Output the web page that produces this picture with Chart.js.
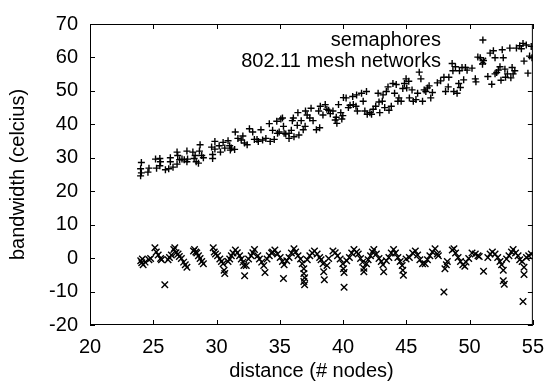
<!DOCTYPE html>
<html lang="en">
<head>
<meta charset="UTF-8">
<title>bandwidth vs distance</title>
<script src="https://cdn.jsdelivr.net/npm/chart.js@4"></script>
<style>
  body { margin: 0; background: #fff; }
  #chart { display: block; }
</style>
</head>
<body>
<canvas id="chart" width="554" height="390"></canvas>
<script>
// series names (legend)
const seriesNames = ["semaphores", "802.11 mesh networks"];

// semaphores (+)
const semX = [24.06, 24.0, 24.06, 24.0, 24.66, 24.58, 25.18, 25.52, 25.57, 25.52, 25.26, 25.96, 26.22, 26.35, 26.35, 26.56, 26.88, 26.93, 27.08, 26.88,
  27.27, 27.45, 27.66, 27.71, 27.66, 28.13, 28.31, 28.23, 28.39, 28.57, 28.7, 28.65, 28.83, 28.96, 29.69, 29.69, 29.61, 29.87, 29.87, 30.21,
  30.31, 30.52, 30.65, 30.91, 31.04, 31.09,
  31.17, 31.43, 31.48, 31.69, 31.95, 32.08, 32.21, 32.42, 32.6, 32.86, 32.99, 33.2, 33.3, 33.51, 33.64, 33.9, 34.17, 34.24, 34.43, 34.56,
  34.76, 34.82, 34.95, 35.08, 35.21, 35.29, 35.34, 35.47, 35.73, 35.73, 35.91, 35.99, 36.07, 36.12, 36.38, 36.43, 36.51, 36.69, 36.85, 37.0,
  37.03, 37.16, 37.37, 37.47, 37.63, 37.89, 38.07, 38.15, 38.2, 38.41, 38.59, 38.72,
  38.86, 38.99, 39.2, 39.38, 39.46, 39.51, 39.64, 39.82, 39.9, 39.98, 40.03, 40.24, 40.42, 40.55, 40.76, 40.81, 41.02, 41.07, 41.13, 41.46,
  41.59, 41.72, 41.85, 41.91, 42.12, 42.25, 42.38, 42.58, 42.77, 42.84, 42.9, 43.1, 43.16, 43.29, 43.42, 43.55, 43.63, 43.81, 43.94, 44.07,
  44.2, 44.33, 44.41, 44.59, 44.72, 44.85, 44.98, 45.03, 45.19, 45.24, 45.45, 45.55, 45.76, 45.89, 46.02, 46.15, 46.28, 46.41, 46.54, 46.67, 46.8,
  46.93, 47.06, 47.45, 47.71, 47.97, 48.1, 48.31, 48.36, 48.62, 48.68, 48.75, 48.88, 49.01, 49.14, 49.2, 49.27, 49.4, 49.53, 49.67, 49.8,
  50.19, 50.45, 50.5, 50.65, 50.84, 51.1, 51.02, 51.44, 51.62, 51.75, 51.88, 52.01, 52.01, 52.14, 52.27, 52.4, 52.48, 52.58, 52.66, 52.79,
  52.84, 52.99, 53.18, 53.26, 53.36, 53.44, 53.57, 53.7, 53.96, 54.09, 54.22, 54.3, 54.48, 54.61, 54.74, 54.87, 54.93];
const semY = [28.6, 26.7, 25.5, 24.6, 26.9, 25.7, 29.6, 29.8, 28.8, 27.6, 26.9, 26.4, 26.7, 30.0, 28.8, 27.2, 31.7, 30.7, 29.4, 28.1,
  29.6, 29.4, 32.0, 29.6, 28.8, 31.7, 30.7, 29.8, 28.8, 28.4, 33.9, 32.0, 30.7, 30.0, 31.0, 29.8, 33.2, 34.9, 32.6, 33.6,
  31.7, 34.6, 32.9, 35.1, 33.6, 32.3,
  32.9, 32.5, 37.7, 35.8, 35.3, 36.5, 34.4, 33.9, 38.7, 37.7, 35.5, 35.5, 34.9, 38.4, 35.3, 35.8, 40.2, 34.9, 38.2, 35.5,
  40.9, 37.3, 37.7, 41.6, 41.9, 39.4, 37.3, 37.1, 37.3, 35.8, 38.2, 41.1, 41.9, 36.3, 39.7, 43.5, 36.8, 41.1, 38.4, 39.4,
  44.0, 42.8, 41.9, 44.8, 41.1, 38.4, 44.0, 39.0, 45.4, 42.8, 45.9, 44.5,
  44.2, 43.2, 44.0, 41.3, 42.1, 40.3, 45.9, 43.5, 41.6, 42.6, 48.0, 47.9, 45.0, 45.7, 48.3, 45.9, 45.4, 48.8, 44.0, 49.3,
  46.9, 44.0, 49.8, 43.0, 43.5, 43.0, 44.5, 45.4, 49.3, 46.7, 43.5, 46.9, 48.8, 45.0, 49.8, 51.2, 44.2, 45.4, 52.2, 49.3,
  51.9, 46.9, 47.9, 46.9, 50.7, 52.2, 53.6, 50.9, 52.9, 47.9, 50.3, 46.9, 47.4, 49.3, 55.6, 53.6, 46.9, 50.3, 49.8, 50.9, 51.5,
  47.9, 49.5, 52.4, 53.0, 54.1, 49.8, 51.2, 54.1, 58.2, 56.0, 49.8, 57.2, 49.3, 52.2, 56.0, 51.0, 57.0, 53.3, 57.0, 56.2,
  56.8, 53.6, 52.7, 60.1, 59.9, 59.1, 58.0, 54.3, 61.3, 52.0, 62.0, 55.1, 59.9, 55.5, 56.2, 57.2, 53.2, 62.3, 59.9, 56.5,
  54.1, 55.1, 62.8, 53.9, 57.0, 55.1, 56.0, 62.8, 63.5, 62.6, 64.2, 58.9, 63.7, 55.3, 60.4, 63.3, 59.9];

// 802.11 mesh networks (x)
const meshX = [24.01, 24.09, 24.14, 24.2, 24.35, 24.66, 24.79, 25.13, 25.24, 25.39, 25.58, 25.65, 25.91, 26.17, 26.28, 26.43, 26.62, 26.7, 26.8, 26.96,
  27.06, 27.22, 27.4, 27.53, 27.66, 28.18, 28.26, 28.36, 28.44, 28.57, 28.7, 28.83, 28.96, 29.74, 29.82, 29.92, 30.08, 30.26, 30.39, 30.52,
  30.6, 30.65, 30.91, 31.04, 31.17, 31.3, 31.49, 31.64, 31.82, 31.96, 32.09, 32.16, 32.22, 32.35, 32.53, 32.74, 32.87, 33.0, 33.26, 33.39,
  33.57, 33.73, 33.83, 33.99, 34.17, 34.35,
  34.43, 34.61, 34.82, 35.03, 35.21, 35.34, 35.29, 35.55, 35.73, 35.92, 36.12, 36.25, 36.44, 36.64, 36.77, 36.9, 36.9, 36.96, 36.9, 36.96,
  37.17, 37.37, 37.56, 37.74, 37.95, 38.15, 38.26, 38.42, 38.47, 38.52, 38.73, 38.86, 39.2, 39.38, 39.56, 39.77, 39.98, 40.03, 40.08, 40.08,
  40.29, 40.5, 40.68, 40.86, 41.07, 41.2, 41.38, 41.54, 41.64, 41.64, 41.85, 41.98, 42.17, 42.32, 42.43, 42.63, 42.84, 43.02, 43.15, 43.21,
  43.42, 43.62, 43.81, 43.99, 44.14, 44.33, 44.51, 44.67, 44.72, 44.77, 44.98,
  45.24, 45.5, 45.71, 45.89, 46.07, 46.28, 46.49, 46.67, 46.86, 47.06, 47.27, 47.45, 47.53, 47.97, 48.05, 48.16, 48.24, 48.63, 48.76, 48.89,
  49.09, 49.28, 49.46, 49.62, 49.72, 49.93, 50.19, 50.45, 50.66, 50.76, 51.1, 51.44, 51.62, 51.8, 52.01, 52.22, 52.4, 52.53, 52.66, 52.66,
  52.74, 52.92, 53.11, 53.31, 53.44, 53.63, 53.83, 53.96, 54.15, 54.3, 54.3, 54.22, 54.49, 54.67, 54.88];
const meshY = [-0.8, -1.4, -0.3, -2.0, -1.2, -0.5, -0.1, 3.1, 1.8, 0.9, -0.1, -0.5, -8.0, -0.5, 0.2, 0.9, 2.6, 3.1, 1.6, 1.2,
  0.5, -0.1, -1.2, -2.0, -2.7, 2.1, 2.6, 1.8, 1.5, 0.7, -0.1, -1.0, -1.7, 3.1, 1.8, 1.2, 0.7, -0.3, -1.0, -1.7,
  -3.6, -4.6, -1.0, -0.3, 0.7, 1.5, 2.4, 1.6, 0.7, -0.3, -1.2, -2.2, -5.3, -2.2, -0.3, 0.7, 1.6, 2.6, 0.7, -0.3,
  -1.2, -2.2, -4.3, -0.3, 0.7, 1.5,
  1.8, 2.4, 1.2, 0.2, -1.0, -2.0, -6.1, -0.8, 0.2, 1.5, 2.8, 1.8, 0.7, -0.3, -1.7, -3.2, -4.6, -5.9, -7.0, -8.0,
  -0.5, 0.7, 1.5, 2.1, 1.2, 0.2, -0.5, -1.7, -4.1, -6.5, -2.2, -0.1, 2.1, 1.6, 0.7, -0.3, -1.7, -3.2, -4.3, -8.7,
  -0.8, 0.2, 1.5, 2.6, 1.8, 1.2, -0.1, -1.2, -3.0, -4.1, -1.7, -0.5, 0.7, 1.8, 2.6, 1.2, -0.1, -1.0, -2.0, -4.1,
  -0.8, 0.2, 1.5, 2.6, 1.5, 0.2, -1.0, -2.2, -3.6, -5.1, -0.3,
  0.2, 1.5, 2.1, 0.9, -0.5, -1.7, -1.7, -0.5, 0.7, 1.8, 2.8, 1.2, 0.7, -10.1, -3.2, -2.0, -1.0, 2.4, 2.8, 1.5,
  0.2, -1.0, -2.0, -2.4, -1.2, -0.1, 1.5, 1.2, 0.7, 0.5, -3.9, 0.2, 1.2, 1.8, 1.2, 0.2, -1.0, -2.0, -3.6, -6.8,
  -7.8, -0.3, 0.7, 1.8, 2.6, 1.5, 0.7, -0.5, -1.0, -2.7, -4.9, -13.0, 0.2, 0.7, 1.2];

// axes
const xTicks = [20, 25, 30, 35, 40, 45, 50, 55];
const yTicks = [-20, -10, 0, 10, 20, 30, 40, 50, 60, 70];
const xTitle = "distance (# nodes)";
const yTitle = "bandwidth (celcius)";

const font = { family: "'Liberation Sans', Arial, Helvetica, sans-serif", size: 20 };
const pointStyles = ["cross", "crossRot"];
const pointRadius = [3.5, 4.6];

function toPoints(xs, ys) {
  return xs.map((x, i) => ({ x: x, y: ys[i] }));
}

// gnuplot style frame with inward mirrored ticks, plus the key in the top right
const gnuplotFrame = {
  id: "gnuplotFrame",
  afterDatasetsDraw(chart) {
    const { ctx, chartArea: a, scales } = chart;
    const tick = 5;
    ctx.save();
    ctx.strokeStyle = "#000";
    ctx.lineWidth = 1;
    ctx.strokeRect(a.left + 0.5, a.top + 0.5, a.right - a.left - 1, a.bottom - a.top - 1);
    ctx.beginPath();
    scales.x.ticks.forEach(t => {
      const px = Math.round(scales.x.getPixelForValue(t.value)) + 0.5;
      ctx.moveTo(px, a.bottom); ctx.lineTo(px, a.bottom - tick);
      ctx.moveTo(px, a.top); ctx.lineTo(px, a.top + tick);
    });
    scales.y.ticks.forEach(t => {
      const py = Math.round(scales.y.getPixelForValue(t.value)) + 0.5;
      ctx.moveTo(a.left, py); ctx.lineTo(a.left + tick, py);
      ctx.moveTo(a.right, py); ctx.lineTo(a.right - tick, py);
    });
    ctx.stroke();

    // key
    ctx.font = font.size + "px " + font.family;
    ctx.fillStyle = "#000";
    ctx.textAlign = "right";
    ctx.textBaseline = "middle";
    const keyRight = a.right - 92;
    const keySample = a.right - 50;
    chart.data.datasets.forEach((ds, i) => {
      const ky = a.top + 16 + i * 21;
      ctx.fillText(ds.label, keyRight, ky);
      ctx.beginPath();
      const r = ds.pointRadius;
      if (ds.pointStyle === "cross") {
        ctx.moveTo(keySample - r, ky); ctx.lineTo(keySample + r, ky);
        ctx.moveTo(keySample, ky - r); ctx.lineTo(keySample, ky + r);
      } else {
        const d = r * Math.SQRT1_2;
        ctx.moveTo(keySample - d, ky - d); ctx.lineTo(keySample + d, ky + d);
        ctx.moveTo(keySample - d, ky + d); ctx.lineTo(keySample + d, ky - d);
      }
      ctx.lineWidth = ds.borderWidth;
      ctx.stroke();
    });
    ctx.restore();
  }
};

new Chart(document.getElementById("chart"), {
  type: "scatter",
  data: {
    datasets: [
      {
        label: seriesNames[0],
        data: toPoints(semX, semY),
        pointStyle: pointStyles[0],
        pointRadius: pointRadius[0],
        borderColor: "#000",
        borderWidth: 1.4
      },
      {
        label: seriesNames[1],
        data: toPoints(meshX, meshY),
        pointStyle: pointStyles[1],
        pointRadius: pointRadius[1],
        borderColor: "#000",
        borderWidth: 1.4
      }
    ]
  },
  options: {
    responsive: false,
    animation: false,
    layout: { padding: { top: 13, right: 16, left: 0, bottom: 0 } },
    plugins: {
      legend: { display: false },
      tooltip: { enabled: false }
    },
    scales: {
      x: {
        type: "linear",
        min: 20,
        max: 55,
        afterBuildTicks: s => { s.ticks = xTicks.map(v => ({ value: v })); },
        afterFit: s => { s.height = 65; },
        grid: { display: false, drawTicks: false },
        border: { display: false },
        ticks: { font: font, color: "#000", padding: 10, maxRotation: 0 },
        title: { display: true, text: xTitle, font: font, color: "#000", padding: { top: 0, bottom: 7 } }
      },
      y: {
        type: "linear",
        min: -20,
        max: 70,
        afterBuildTicks: s => { s.ticks = yTicks.map(v => ({ value: v })); },
        afterFit: s => { s.width = 90; },
        grid: { display: false, drawTicks: false },
        border: { display: false },
        ticks: { font: font, color: "#000", padding: 12 },
        title: { display: true, text: yTitle, font: font, color: "#000", padding: { top: 6, bottom: 0 } }
      }
    }
  },
  plugins: [gnuplotFrame]
});
</script>
</body>
</html>
